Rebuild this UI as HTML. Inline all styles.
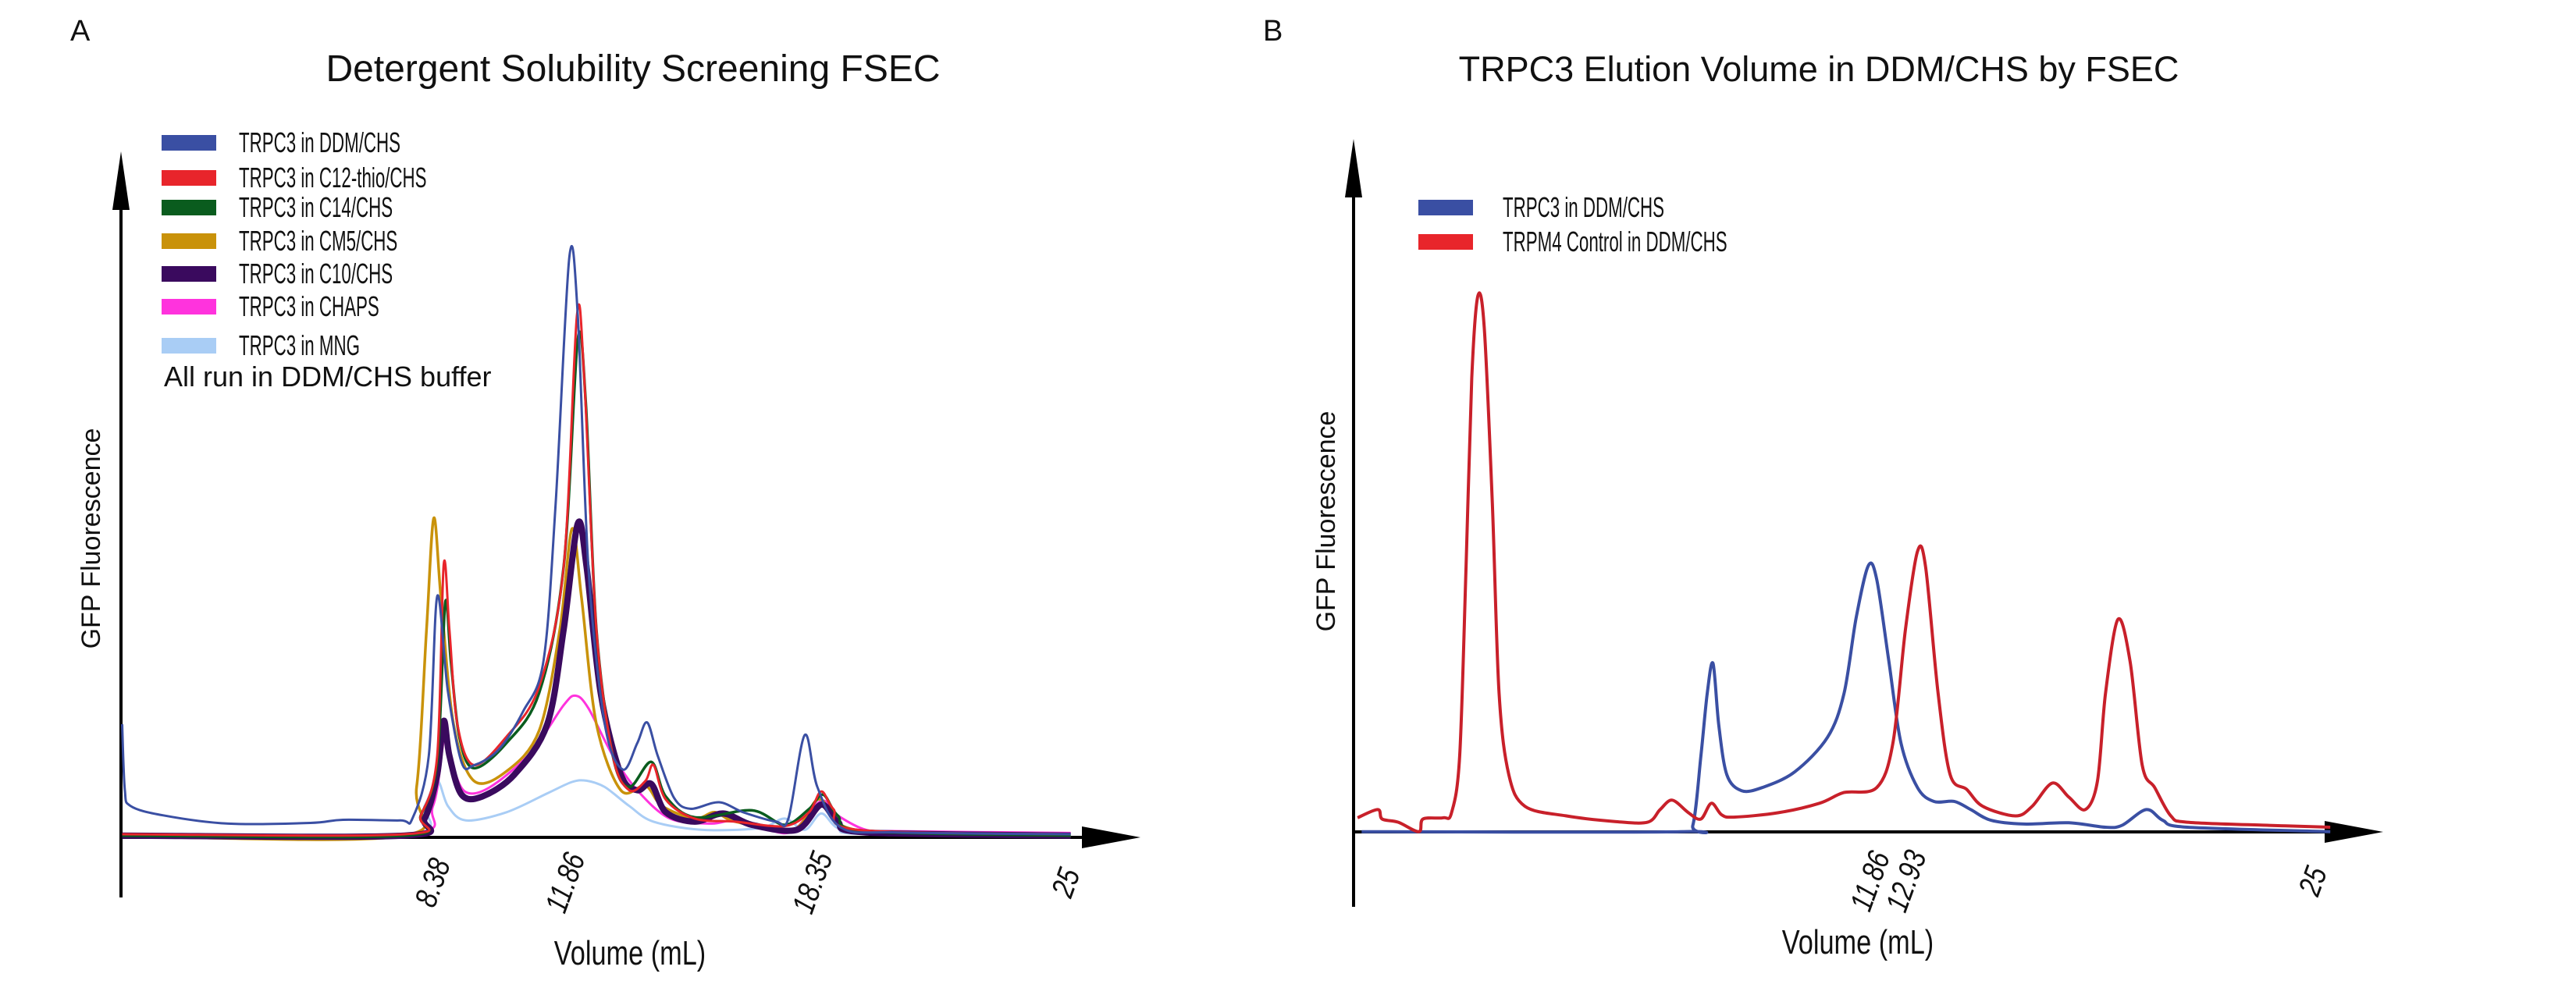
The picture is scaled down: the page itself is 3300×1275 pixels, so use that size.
<!DOCTYPE html>
<html><head><meta charset="utf-8">
<style>
html,body{margin:0;padding:0;background:#fff;overflow:hidden;}
svg{display:block;}
text{font-family:"Liberation Sans",sans-serif;fill:#111;}
</style></head>
<body>
<svg id="chart" width="3300" height="1275" viewBox="0 0 3300 1275" xmlns="http://www.w3.org/2000/svg">
<rect width="3300" height="1275" fill="#fff"/>
<text x="90" y="52" font-size="38">A</text>
<text x="811" y="104" font-size="48" text-anchor="middle">Detergent Solubility Screening FSEC</text>
<text x="1618" y="52" font-size="38">B</text>
<text x="2330" y="104" font-size="45" text-anchor="middle">TRPC3 Elution Volume in DDM/CHS by FSEC</text>
<g id="A"></g><g id="B"></g>
</svg>
<script>
// ---------- Panel A data (x: mL, y: fluorescence a.u.) ----------
const aTicks = [8.38, 11.86, 18.35, 25];
const aTickLabels = ["8.38", "11.86", "18.35", "25"];
const aNames = ["TRPC3 in DDM/CHS","TRPC3 in C12-thio/CHS","TRPC3 in C14/CHS","TRPC3 in CM5/CHS","TRPC3 in C10/CHS","TRPC3 in CHAPS","TRPC3 in MNG"];
const aDDM = [[0.01,19.0],[0.08,8],[0.23,5.28],[1.09,3.69],[2.80,2.31],[4.95,2.42],[5.81,2.95],[7.31,2.84],[7.63,3.16],[8.06,13.7],[8.28,40.5],[8.56,24.6],[8.92,12.6],[9.24,12.1],[9.89,14.7],[10.53,21.1],[11.07,29.6],[11.39,56.0],[11.75,97.5],[11.97,87.8],[12.25,45.3],[12.68,19.0],[13.15,11.4],[13.53,15.8],[13.79,19.3],[14.07,13.7],[14.50,6.6],[14.93,4.8],[15.68,5.9],[16.32,4.2],[17.18,2.63],[17.50,3.16],[17.93,17.2],[18.26,8.45],[18.90,1.57],[20.40,0.83],[24.91,0.52]];
const aC12 = [[0.01,0.52],[7.42,0.52],[7.85,3.69],[8.28,13.74],[8.45,45.80],[8.60,34.90],[8.81,19.03],[9.24,12.15],[10.10,16.92],[10.96,25.38],[11.60,45.48],[11.95,87.80],[12.14,77.22],[12.46,34.90],[12.89,13.74],[13.32,7.92],[13.75,9.51],[13.96,12.15],[14.28,6.34],[15.04,3.16],[16.11,2.63],[17.40,1.89],[18.04,4.22],[18.36,7.71],[18.68,4.75],[19.33,1.26],[24.91,0.52]];
const aC14 = [[0.01,0.30],[7.42,0.30],[7.85,3.69],[8.28,12.68],[8.49,39.34],[8.64,29.61],[8.86,16.92],[9.24,11.63],[10.10,15.86],[10.96,24.32],[11.60,45.48],[11.97,83.57],[12.18,72.99],[12.46,34.90],[12.89,13.74],[13.32,8.45],[13.90,12.68],[14.28,6.86],[15.04,3.37],[16.54,4.54],[17.40,2.10],[18.04,4.75],[18.41,7.18],[18.79,3.69],[19.54,1.04],[24.91,0.30]];
const aCM5 = [[0.01,0.20],[7.31,0.20],[7.74,8.45],[8.00,34.90],[8.19,53.63],[8.38,40.19],[8.71,19.03],[9.24,9.51],[10.10,11.10],[10.96,17.97],[11.50,34.90],[11.82,51.83],[12.07,40.19],[12.46,19.03],[13.10,7.92],[13.75,8.66],[14.18,5.28],[15.04,3.16],[15.57,4.22],[16.11,2.63],[17.61,1.26],[18.26,6.34],[18.68,4.22],[19.54,1.04],[24.91,0.20]];
const aC10 = [[0.01,0.30],[7.42,0.30],[7.95,3.16],[8.28,10.57],[8.45,19.56],[8.60,13.74],[8.92,7.18],[9.46,6.86],[10.31,10.57],[11.17,19.03],[11.60,34.90],[11.97,52.67],[12.20,45.48],[12.57,24.32],[13.10,10.57],[13.53,7.92],[13.90,8.98],[14.28,4.22],[15.04,2.63],[15.79,4.01],[16.54,2.10],[17.72,1.26],[18.36,5.49],[18.79,2.63],[19.54,0.83],[24.91,0.30]];
const aCHAPS = [[0.01,0.52],[7.42,0.52],[8.17,5.28],[8.49,17.44],[8.71,11.63],[9.03,7.60],[9.67,8.45],[10.74,14.27],[11.60,22.20],[11.92,23.79],[12.25,21.68],[12.89,13.74],[13.53,7.92],[14.39,3.16],[15.47,2.31],[16.11,2.84],[16.97,1.26],[17.61,1.04],[18.36,6.12],[18.79,3.69],[19.54,1.26],[20.40,1.04],[24.91,0.73]];
const aMNG = [[0.01,0.20],[7.42,0.20],[7.95,5.28],[8.28,9.51],[8.56,5.28],[9.03,2.84],[10.10,4.22],[11.17,7.39],[11.82,9.30],[12.20,9.51],[12.68,8.45],[13.32,5.28],[13.96,2.63],[15.25,1.26],[16.76,1.57],[17.40,3.16],[17.93,1.26],[18.36,4.01],[18.79,1.57],[19.54,0.52],[24.91,0.20]];
// ---------- Panel B data ----------
const bTicks = [11.86, 12.93, 25];
const bTickLabels = ["11.86", "12.93", "25"];
const bNames = ["TRPC3 in DDM/CHS","TRPM4 Control in DDM/CHS"];
const bTRPC3 = [[-3.48,0.04],[5.98,0.04],[6.35,1.1],[6.59,12.7],[6.78,23.3],[6.95,28.3],[7.12,18.0],[7.36,9.6],[7.80,6.92],[8.41,7.45],[9.38,10.1],[10.35,15.9],[10.84,23.3],[11.20,36.0],[11.56,44.7],[11.81,42.4],[12.17,28.6],[12.53,14.9],[13.02,7.45],[13.50,5.12],[14.11,5.12],[14.60,3.75],[15.20,1.95],[16.17,1.32],[17.51,1.53],[18.60,0.79],[19.09,1.1],[19.81,3.75],[20.30,1.95],[21.03,0.79],[25.27,0.04]];
const bTRPM4 = [[-3.60,2.37],[-3.00,3.75],[-2.87,2.16],[-2.39,1.63],[-1.78,0.04],[-1.66,2.16],[-1.06,2.37],[-0.81,3.22],[-0.57,12.7],[-0.38,44.5],[-0.21,76.2],[-0.03,90.0],[0.16,84.7],[0.40,55.1],[0.60,23.3],[0.89,9.6],[1.37,4.3],[2.58,2.7],[4.04,1.74],[5.01,1.63],[5.38,3.75],[5.74,5.34],[6.22,3.22],[6.59,2.16],[6.90,4.81],[7.20,2.90],[7.56,2.48],[8.89,3.22],[10.11,4.81],[10.83,6.6],[11.81,7.45],[12.29,14.9],[12.66,33.9],[13.02,47.1],[13.26,44.5],[13.63,23.3],[13.99,9.6],[14.48,7.13],[14.96,4.28],[15.93,2.69],[16.42,4.28],[17.02,8.2],[17.51,5.86],[18.0,3.75],[18.36,8.5],[18.60,23.3],[18.97,35.7],[19.33,28.6],[19.69,11.2],[20.06,7.45],[20.54,2.69],[21.03,1.63],[23.45,1.1],[25.27,0.79]];

const NS="http://www.w3.org/2000/svg";
function mk(parent, tag, attrs){const e=document.createElementNS(NS,tag);for(const k in attrs)e.setAttribute(k,attrs[k]);parent.appendChild(e);return e;}
function smooth(pts){
  let d="M"+pts[0][0].toFixed(1)+","+pts[0][1].toFixed(1);
  for(let i=0;i<pts.length-1;i++){
    const p0=pts[Math.max(0,i-1)],p1=pts[i],p2=pts[i+1],p3=pts[Math.min(pts.length-1,i+2)];
    const t=0.16;
    const c1=[p1[0]+(p2[0]-p0[0])*t,p1[1]+(p2[1]-p0[1])*t];
    const c2=[p2[0]-(p3[0]-p1[0])*t,p2[1]-(p3[1]-p1[1])*t];
    d+="C"+c1[0].toFixed(1)+","+c1[1].toFixed(1)+" "+c2[0].toFixed(1)+","+c2[1].toFixed(1)+" "+p2[0].toFixed(1)+","+p2[1].toFixed(1);
  }
  return d;
}
function drawAxes(g, ox, oy, yTop, yBot, xEnd){
  const ya=mk(g,"line",{x1:ox,y1:yBot,x2:ox,y2:yTop+60,stroke:"#000","stroke-width":4});
  
  
  const yh=mk(g,"polygon",{points:`${ox},${yTop} ${ox-11},${yTop+75} ${ox+11},${yTop+75}`,fill:"#000"});
  
  
  const xa=mk(g,"line",{x1:ox,y1:oy,x2:xEnd-70,y2:oy,stroke:"#000","stroke-width":4});
  
  
  const xh=mk(g,"polygon",{points:`${xEnd},${oy} ${xEnd-75},${oy-14} ${xEnd-75},${oy+14}`,fill:"#000"});
  
  
}
function series(g, data, sx, sy, color, w, name){
  const p=mk(g,"path",{d:smooth(data.map(d=>[sx(d[0]),sy(d[1])])),fill:"none",stroke:color,"stroke-width":w,"stroke-linejoin":"round"});
  
  
}
function ticks(g, vals, labels, sx, ty, dx){
  vals.forEach((v,i)=>{
    const x=sx(v)+dx;
    const t=mk(g,"text",{x:0,y:0,"font-size":40,"font-style":"italic","text-anchor":"middle","dominant-baseline":"middle",transform:`translate(${x} ${ty}) rotate(-70) scale(0.8 1)`});
    t.textContent=labels[i];
    
    
  });
}
function legend(g, names, colors, x, ys, textX, size){
  names.forEach((n,i)=>{
    const r=mk(g,"rect",{x:x,y:ys[i]-10,width:70,height:20,fill:colors[i]});
    
    
    const t=mk(g,"text",{x:0,y:0,"font-size":size,transform:`translate(${textX} ${ys[i]+12}) scale(0.62 1)`});
    t.textContent=n;
    
    
  });
}
function axisTitles(g, xlx, xly, ylx, yly){
  const xl=mk(g,"text",{x:0,y:0,"font-size":44,"text-anchor":"middle",transform:`translate(${xlx} ${xly}) scale(0.78 1)`});
  xl.textContent="Volume (mL)";
  
  
  const yl=mk(g,"text",{x:ylx,y:yly,"font-size":34,"text-anchor":"middle",transform:`rotate(-90 ${ylx} ${yly})`});
  yl.textContent="GFP Fluorescence";
  
  
}
// ----- Panel A -----
(function(){
  const g=document.getElementById("A");
  const sx=v=>156+48.8*v, sy=f=>1073-7.63*f;
  drawAxes(g,155,1073,194,1150,1461);
  const cols=["#3a4fa3","#e8252b","#0a5c1e","#c9920a","#3a0a5e","#ff33dd","#a9cdf5"];
  series(g,aMNG,sx,sy,cols[6],3,"series-mng");
  series(g,aCHAPS,sx,sy,cols[5],3,"series-chaps");
  series(g,aCM5,sx,sy,cols[3],3.5,"series-cm5");
  series(g,aC10,sx,sy,cols[4],8,"series-c10");
  series(g,aC14,sx,sy,cols[2],3.5,"series-c14");
  series(g,aC12,sx,sy,cols[1],3,"series-c12-thio");
  series(g,aDDM,sx,sy,cols[0],3,"series-ddm");
  ticks(g,aTicks,aTickLabels,sx,1132,-8);
  legend(g,aNames,cols,207,[183,228,266,309,351,393,443],306,36);
  const n=mk(g,"text",{x:210,y:495,"font-size":36});
  n.textContent="All run in DDM/CHS buffer";
  
  
  axisTitles(g,807,1236,128,690);
})();
// ----- Panel B -----
(function(){
  const g=document.getElementById("B");
  const sx=v=>1894.5+43.16*v, sy=f=>1066-7.63*f;
  drawAxes(g,1734,1066,178,1162,3053);
  series(g,bTRPC3,sx,sy,"#3a4fa3",4,"series-trpc3");
  series(g,bTRPM4,sx,sy,"#c8202a",4,"series-trpm4");
  ticks(g,bTicks,bTickLabels,sx,1130,-8);
  legend(g,bNames,["#3a4fa3","#e8252b"],1817,[266,310],1925,36);
  axisTitles(g,2380,1222,1710,668);
})();
</script>
</body></html>
